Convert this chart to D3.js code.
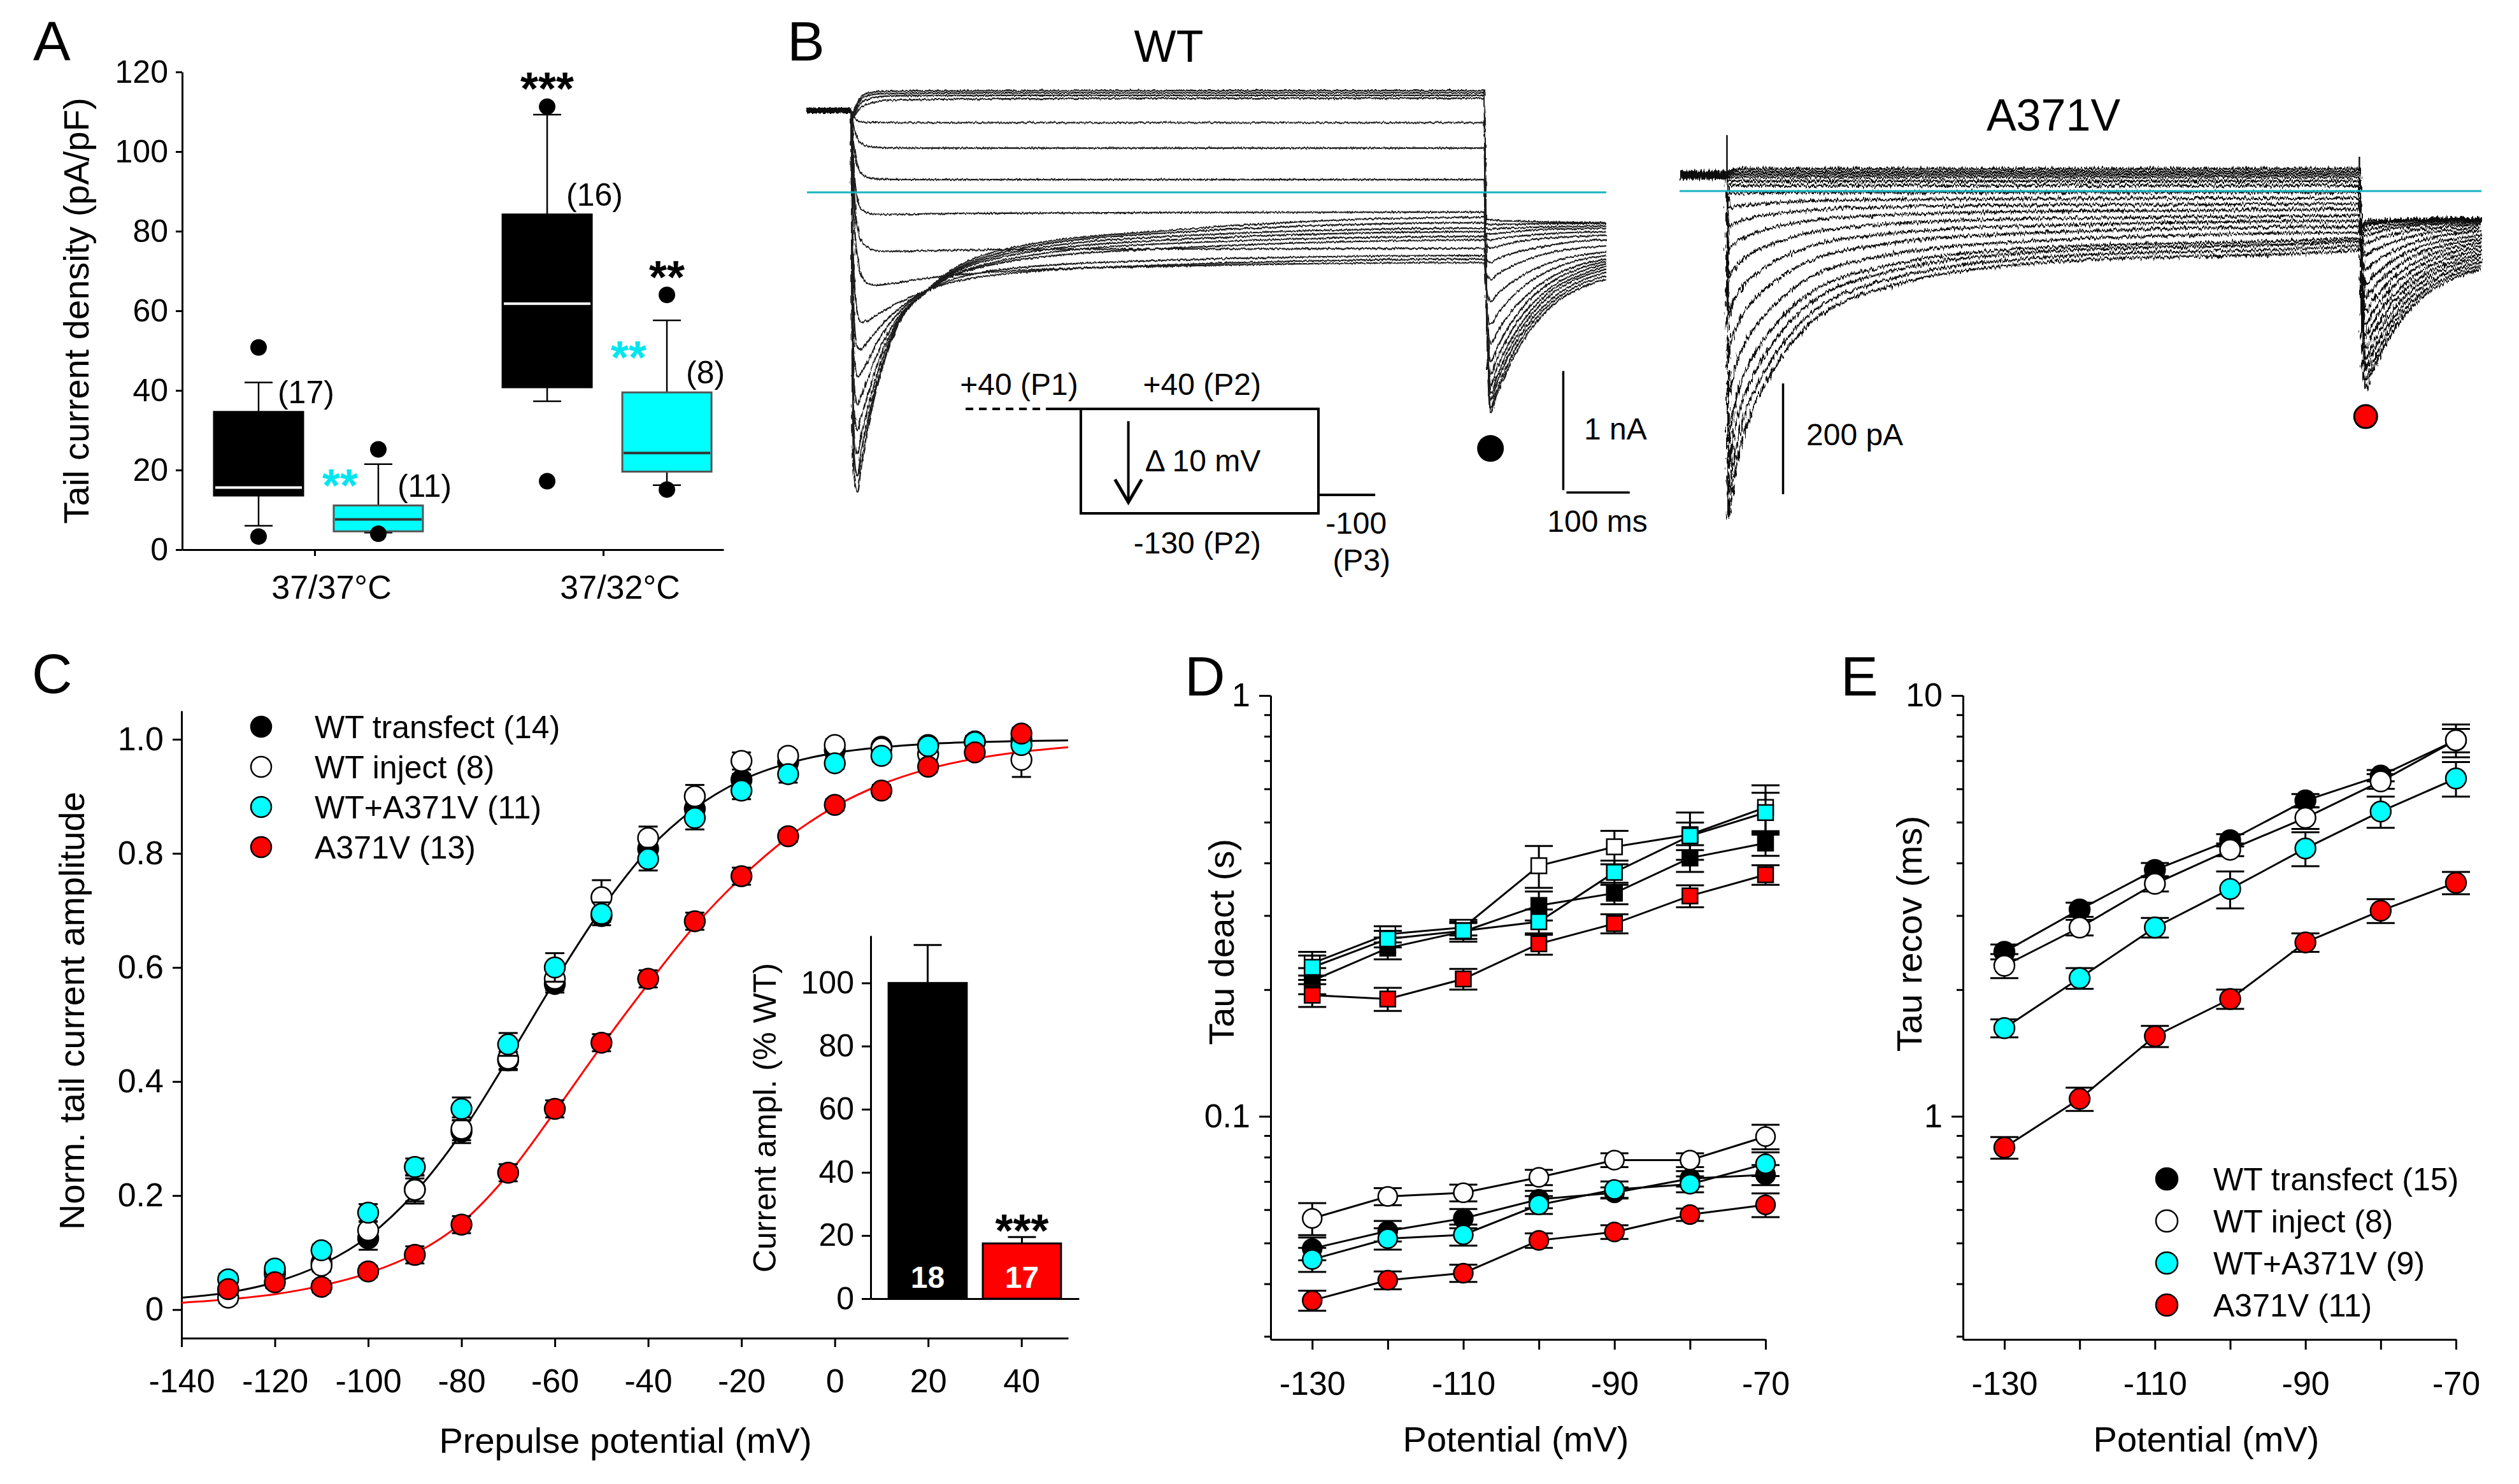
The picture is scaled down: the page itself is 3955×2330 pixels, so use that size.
<!DOCTYPE html>
<html>
<head>
<meta charset="utf-8">
<title>hERG A371V figure</title>
<script src="https://cdn.jsdelivr.net/npm/d3@7"></script>
<style>
  body { margin: 0; background: #fff; }
  text { font-family: "Liberation Sans", Arial, sans-serif; }
</style>
</head>
<body>
<svg id="fig" width="3955" height="2330"></svg>
<script>
// ---------------- data ----------------
// A: tail current density box plots  [whisker low, q1, median, q3, whisker high]
var boxGroups = ["37/37°C", "37/32°C"];
var aTicks = [0, 20, 40, 60, 80, 100, 120];
var boxWT  = [[6.0, 13.6, 15.6, 34.6, 42.0], [37.3, 40.8, 61.8, 84.2, 109.3]];
var boxMut = [[4.3, 4.6, 7.6, 11.1, 21.5], [16.2, 19.6, 24.3, 39.5, 57.6]];
var outWT  = [[50.8, 3.3], [111.3, 17.2]];
var outMut = [[25.2, 4.0], [64.0, 15.1]];
var nWT  = ["(17)", "(16)"];
var nMut = ["(11)", "(8)"];
var starsWT = ["", "***"];
var starsMutTop = ["", "**"];
var starsMutSide = ["**", "**"];

// B: WT current traces (nA), P2 step then P3 tail
var wtHold = [[-70, 0.687], [0, 0.687]];
var wtTimes = [0, 2, 6, 10, 15, 25, 40, 70, 120, 250, 500, 1000];
var wtSteps = [
  [0.687, 0.66, 0.71, 0.76, 0.80, 0.83, 0.845, 0.85, 0.852, 0.853, 0.854, 0.854],
  [0.687, 0.65, 0.69, 0.74, 0.78, 0.81, 0.825, 0.83, 0.833, 0.835, 0.835, 0.835],
  [0.687, 0.64, 0.67, 0.71, 0.75, 0.78, 0.80, 0.81, 0.812, 0.814, 0.814, 0.814],
  [0.687, 0.63, 0.65, 0.68, 0.71, 0.74, 0.76, 0.775, 0.78, 0.785, 0.79, 0.79],
  [0.687, 0.65, 0.62, 0.60, 0.59, 0.588, 0.587, 0.586, 0.585, 0.585, 0.585, 0.585],
  [0.687, 0.60, 0.50, 0.45, 0.415, 0.39, 0.378, 0.373, 0.372, 0.372, 0.372, 0.372],
  [0.687, 0.50, 0.32, 0.22, 0.16, 0.125, 0.112, 0.108, 0.107, 0.107, 0.107, 0.107],
  [0.687, 0.40, 0.08, -0.06, -0.13, -0.17, -0.185, -0.185, -0.18, -0.175, -0.17, -0.165],
  [0.687, 0.35, -0.12, -0.30, -0.40, -0.46, -0.49, -0.495, -0.49, -0.48, -0.475, -0.47],
  [0.687, 0.2, -0.35, -0.55, -0.68, -0.76, -0.78, -0.76, -0.72, -0.66, -0.62, -0.59],
  [0.687, -0.3, -0.85, -1.02, -1.09, -1.08, -1.03, -0.94, -0.82, -0.68, -0.61, -0.56],
  [0.687, -0.6, -1.18, -1.30, -1.32, -1.26, -1.16, -1.0, -0.82, -0.64, -0.57, -0.53],
  [0.687, -0.9, -1.45, -1.55, -1.52, -1.43, -1.27, -1.04, -0.82, -0.58, -0.47, -0.40],
  [0.687, -1.2, -1.70, -1.78, -1.72, -1.58, -1.37, -1.08, -0.83, -0.56, -0.43, -0.37],
  [0.687, -1.45, -1.92, -2.0, -1.9, -1.72, -1.46, -1.11, -0.83, -0.53, -0.40, -0.33],
  [0.687, -1.7, -2.12, -2.2, -2.06, -1.84, -1.54, -1.13, -0.83, -0.51, -0.37, -0.30],
  [0.687, -1.9, -2.3, -2.38, -2.2, -1.94, -1.61, -1.15, -0.83, -0.49, -0.34, -0.255],
  [0.687, -2.1, -2.45, -2.52, -2.33, -2.01, -1.65, -1.16, -0.82, -0.47, -0.32, -0.21]
];
var tailTimes = [1000, 1004, 1010, 1020, 1040, 1070, 1110, 1150, 1193];
var wtTails = [
  [0.854, -1.04, -1.85, -1.70, -1.45, -1.18, -0.94, -0.81, -0.73],
  [0.835, -1.02, -1.81, -1.66, -1.41, -1.14, -0.91, -0.78, -0.70],
  [0.814, -0.98, -1.75, -1.60, -1.36, -1.10, -0.88, -0.75, -0.67],
  [0.79, -0.95, -1.69, -1.55, -1.31, -1.06, -0.84, -0.72, -0.645],
  [0.585, -0.96, -1.62, -1.48, -1.26, -1.02, -0.81, -0.70, -0.62],
  [0.372, -0.96, -1.53, -1.40, -1.19, -0.97, -0.78, -0.67, -0.60],
  [0.107, -0.96, -1.42, -1.31, -1.12, -0.91, -0.74, -0.64, -0.58],
  [-0.165, -0.95, -1.28, -1.18, -1.02, -0.85, -0.70, -0.61, -0.56],
  [-0.47, -0.92, -1.11, -1.03, -0.90, -0.76, -0.64, -0.57, -0.53],
  [-0.59, -0.82, -0.92, -0.86, -0.77, -0.67, -0.58, -0.53, -0.50],
  [-0.56, -0.68, -0.73, -0.69, -0.63, -0.56, -0.50, -0.47, -0.45],
  [-0.53, -0.57, -0.59, -0.56, -0.52, -0.48, -0.44, -0.41, -0.40],
  [-0.40, -0.45, -0.47, -0.455, -0.43, -0.40, -0.38, -0.37, -0.36],
  [-0.37, -0.39, -0.40, -0.39, -0.375, -0.36, -0.345, -0.335, -0.33],
  [-0.33, -0.345, -0.35, -0.345, -0.335, -0.32, -0.31, -0.305, -0.30],
  [-0.30, -0.305, -0.31, -0.305, -0.30, -0.295, -0.29, -0.285, -0.28],
  [-0.255, -0.265, -0.27, -0.27, -0.268, -0.265, -0.263, -0.261, -0.26],
  [-0.21, -0.225, -0.23, -0.235, -0.24, -0.245, -0.25, -0.253, -0.255]
];
var wtDot = [1010, -2.15];

// B: A371V current traces (pA)
var mutHold = [[-75, 29], [0, 29]];
var mutSpikes = [[0, 101, 29], [1000, 62, 40]];
var mutTimes = [0, 1, 2, 10, 15, 25, 40, 70, 120, 250, 500, 1000];
var mutSteps = [
  [29, 32, 36, 38, 39, 40, 40, 40, 40, 40, 40, 40],
  [29, 31, 33, 34, 35, 35, 35, 35, 35, 35, 35, 35],
  [29, 29, 30, 30, 30, 30, 30, 30, 30, 30, 30, 30],
  [29, 27, 26, 25, 25, 25, 25, 25, 25, 25, 25, 25],
  [29, 24, 20, 18, 18, 18, 18, 18, 18, 18, 18, 18],
  [29, 20, 12, 10, 10, 10, 10, 10, 10, 10, 10, 10],
  [29, 12, -4, -3.7, -3.6, -3.4, -3.2, -2.9, -2.6, -2.3, -2.1, -2],
  [29, -1, -31, -28.7, -27.4, -25.6, -23.8, -21.3, -18.4, -15.5, -13.9, -13],
  [29, -18, -65, -59.5, -56.6, -52.4, -48.2, -42.3, -35.6, -28.9, -25, -23],
  [29, -39, -107, -97.4, -92.2, -84.8, -77.4, -67, -55.2, -43.4, -36.6, -33],
  [29, -64, -157, -142.3, -134.4, -123.1, -111.8, -96, -77.9, -59.8, -49.4, -44],
  [29, -97, -222, -200.2, -188.4, -171.6, -154.8, -131.3, -104.4, -77.5, -62.1, -54],
  [29, -131, -290, -260.6, -244.8, -222.2, -199.6, -168, -131.8, -95.6, -74.8, -64],
  [29, -171, -370, -331.7, -311, -281.5, -252, -210.7, -163.5, -116.3, -89.2, -75],
  [29, -208, -445, -398.2, -373, -337, -301, -250.6, -193, -135.4, -102.3, -85],
  [29, -236, -500, -446.7, -418, -377, -336, -278.6, -213, -147.4, -109.7, -90],
  [29, -261, -550, -491.2, -459.6, -414.4, -369.2, -305.9, -233.6, -161.3, -119.7, -98],
  [29, -281, -590, -527, -493, -445, -396, -329, -251, -174, -129, -106]
];
var mutTails = [
  [40, -238, -357, -327, -279, -227, -182, -157, -141],
  [35, -227, -340, -312, -266, -216, -174, -150, -135],
  [30, -216, -322, -295, -252, -205, -165, -142, -128],
  [25, -205, -303, -278, -237, -193, -155, -134, -121],
  [18, -193, -283, -260, -222, -181, -146, -127, -114],
  [10, -180, -262, -241, -206, -169, -136, -118, -107],
  [-2, -169, -240, -221, -189, -156, -126, -110, -100],
  [-13, -156, -217, -200, -172, -142, -116, -102, -93],
  [-23, -142, -193, -178, -154, -128, -106, -94, -86],
  [-33, -127, -168, -156, -136, -114, -96, -86, -79],
  [-44, -113, -142, -132, -117, -100, -85, -77, -72],
  [-54, -97, -116, -109, -98, -86, -75, -70, -66],
  [-64, -86, -95, -90, -82, -74, -67, -63, -60],
  [-75, -78, -80, -77, -71, -65, -60, -58, -56],
  [-85, -74, -70, -68, -64, -60, -56, -54, -53],
  [-90, -70, -62, -60, -58, -55, -53, -52, -51],
  [-98, -70, -58, -57, -55, -53, -52, -51, -50],
  [-106, -70, -54, -53, -52, -51, -50, -49, -49]
];
var mutDot = [1010, -407];

// C: normalized tail current vs prepulse potential
var cV = [-130, -120, -110, -100, -90, -80, -70, -60, -50, -40, -30, -20, -10, 0, 10, 20, 30, 40];
var cBlack = [0.034, 0.065, 0.082, 0.125, 0.211, 0.312, 0.437, 0.571, 0.69, 0.808, 0.878, 0.929, 0.96, 0.981, 0.987, 0.99, 0.996, 1.0];
var cWhite = [0.021, 0.062, 0.077, 0.139, 0.21, 0.317, 0.44, 0.58, 0.723, 0.827, 0.90, 0.962, 0.971, 0.99, 0.984, 0.974, 0.996, 0.964];
var cCyan  = [0.053, 0.072, 0.104, 0.17, 0.25, 0.352, 0.465, 0.60, 0.694, 0.79, 0.862, 0.91, 0.939, 0.958, 0.971, 0.988, 0.995, 0.99];
var cRed   = [0.036, 0.048, 0.04, 0.067, 0.096, 0.149, 0.24, 0.352, 0.468, 0.58, 0.681, 0.76, 0.83, 0.885, 0.91, 0.952, 0.977, 1.01];
var cBlackErr = [0.01, 0.01, 0.015, 0.02, 0.025, 0.02, 0.015, 0.015, 0.01, 0.01, 0.01, 0.01, 0.01, 0.01, 0.005, 0.005, 0.005, 0.005];
var cWhiteErr = [0.01, 0.01, 0.01, 0.015, 0.02, 0.02, 0.02, 0.02, 0.03, 0.02, 0.02, 0.015, 0.01, 0.01, 0.01, 0.01, 0.01, 0.03];
var cCyanErr  = [0.01, 0.01, 0.01, 0.015, 0.015, 0.02, 0.02, 0.025, 0.02, 0.02, 0.02, 0.015, 0.015, 0.01, 0.01, 0.01, 0.01, 0.01];
var cRedErr   = [0.01, 0.01, 0.01, 0.01, 0.015, 0.015, 0.015, 0.015, 0.015, 0.015, 0.015, 0.015, 0.01, 0.01, 0.01, 0.01, 0.01, 0.01];
var cFitV = [-140, -130, -120, -110, -100, -90, -80, -70, -60, -50, -40, -30, -20, -10, 0, 10, 20, 30, 40, 50];
var cFitBlack = [0.021, 0.030, 0.048, 0.079, 0.128, 0.205, 0.310, 0.440, 0.576, 0.702, 0.806, 0.879, 0.928, 0.958, 0.976, 0.986, 0.992, 0.995, 0.997, 0.998];
var cFitRed   = [0.012, 0.018, 0.027, 0.042, 0.064, 0.098, 0.152, 0.237, 0.347, 0.462, 0.571, 0.673, 0.758, 0.828, 0.882, 0.921, 0.948, 0.966, 0.978, 0.986];
var cXTicks = [-140, -120, -100, -80, -60, -40, -20, 0, 20, 40];
var cYTicks = [0, 0.2, 0.4, 0.6, 0.8, 1.0];
var cLegend = ["WT transfect (14)", "WT inject (8)", "WT+A371V (11)", "A371V (13)"];

// C inset: current amplitude (% WT)
var insCats = ["WT", "A371V"];
var insVals = [100, 17.5];
var insErr  = [12, 2];
var insN    = ["18", "17"];
var insTicks = [0, 20, 40, 60, 80, 100];

// D: deactivation time constants (s)
var dV = [-130, -120, -110, -100, -90, -80, -70];
var dSlowBlack = [0.210, 0.251, 0.275, 0.317, 0.339, 0.411, 0.446];
var dSlowWhite = [0.231, 0.271, 0.281, 0.394, 0.437, 0.467, 0.542];
var dSlowCyan  = [0.226, 0.264, 0.276, 0.290, 0.380, 0.464, 0.527];
var dSlowRed   = [0.194, 0.190, 0.212, 0.257, 0.287, 0.334, 0.375];
var dSlowBlackErr = [0.015, 0.015, 0.015, 0.025, 0.02, 0.03, 0.03];
var dSlowWhiteErr = [0.015, 0.012, 0.012, 0.045, 0.04, 0.06, 0.07];
var dSlowCyanErr  = [0.015, 0.012, 0.012, 0.02, 0.025, 0.035, 0.06];
var dSlowRedErr   = [0.012, 0.012, 0.012, 0.015, 0.015, 0.02, 0.02];
var dFastBlack = [0.0485, 0.0534, 0.0572, 0.0635, 0.0658, 0.0711, 0.0726];
var dFastWhite = [0.0572, 0.0645, 0.0658, 0.0716, 0.0787, 0.0787, 0.0895];
var dFastCyan  = [0.0457, 0.0512, 0.0523, 0.0616, 0.0670, 0.0690, 0.0771];
var dFastRed   = [0.0365, 0.0408, 0.0424, 0.0507, 0.0531, 0.0584, 0.0616];
var dFastBlackErr = [0.003, 0.003, 0.003, 0.003, 0.002, 0.003, 0.004];
var dFastWhiteErr = [0.005, 0.003, 0.003, 0.003, 0.003, 0.003, 0.006];
var dFastCyanErr  = [0.003, 0.003, 0.003, 0.003, 0.003, 0.003, 0.005];
var dFastRedErr   = [0.002, 0.002, 0.002, 0.002, 0.002, 0.002, 0.004];
var xLabelled = [-130, -110, -90, -70];

// E: recovery time constants (ms)
var eBlack = [2.46, 3.10, 3.85, 4.53, 5.63, 6.45, 7.83];
var eWhite = [2.28, 2.81, 3.57, 4.30, 5.12, 6.25, 7.83];
var eCyan  = [1.62, 2.13, 2.81, 3.47, 4.33, 5.30, 6.35];
var eRed   = [0.843, 1.10, 1.55, 1.90, 2.59, 3.08, 3.59];
var eBlackErr = [0.1, 0.12, 0.15, 0.15, 0.2, 0.2, 0.5];
var eWhiteErr = [0.15, 0.12, 0.15, 0.15, 0.3, 0.25, 0.7];
var eCyanErr  = [0.08, 0.12, 0.15, 0.35, 0.4, 0.45, 0.6];
var eRedErr   = [0.05, 0.07, 0.09, 0.1, 0.13, 0.2, 0.22];
var eLegend = ["WT transfect (15)", "WT inject (8)", "WT+A371V (9)", "A371V (11)"];

var fills = ["#000000", "#ffffff", "#00ffff", "#ff0000"];

// ---------------- helpers ----------------
var FONT = '"Liberation Sans", Arial, sans-serif';
var svg = d3.select("#fig");
svg.append("rect").attr("width", 3955).attr("height", 2330).attr("fill", "#fff");

var defs = svg.append("defs");
function noiseFilter(id, freq, scale, seed) {
  var f = defs.append("filter").attr("id", id)
    .attr("x", "-2%").attr("y", "-10%").attr("width", "104%").attr("height", "120%");
  f.append("feTurbulence").attr("type", "fractalNoise").attr("baseFrequency", freq)
    .attr("numOctaves", 2).attr("seed", seed).attr("result", "n");
  f.append("feDisplacementMap").attr("in", "SourceGraphic").attr("in2", "n")
    .attr("scale", scale).attr("xChannelSelector", "R").attr("yChannelSelector", "G");
}
noiseFilter("noiseWT", "0.4 0.06", 5, 3);
noiseFilter("noiseMut", "0.4 0.06", 12, 7);

function addText(x, y, s, fs, anchor) {
  return svg.append("text").attr("x", x).attr("y", y).attr("font-size", fs)
    .attr("text-anchor", anchor || "start").attr("fill", "#000").text(s);
}
function addVText(x, y, s, fs) {
  return svg.append("text").attr("transform", "translate(" + x + "," + y + ") rotate(-90)")
    .attr("font-size", fs).attr("text-anchor", "middle").attr("fill", "#000").text(s);
}
function styleAxis(g, fs) {
  g.attr("font-family", FONT).attr("font-size", fs);
  g.selectAll(".domain, .tick line").attr("stroke", "#000").attr("stroke-width", 3);
  g.selectAll(".tick text").attr("fill", "#000");
  return g;
}
function zip(xs, ys) { return xs.map(function(x, i) { return [x, ys[i]]; }); }

// panel letters
addText(52, 95, "A", 88);
addText(1236, 95, "B", 88);
addText(50, 1088, "C", 88);
addText(1860, 1092, "D", 88);
addText(2890, 1092, "E", 88);

// ---------------- panel A ----------------
var aY = d3.scaleLinear().domain([0, 120]).range([863, 113]);
var aX = d3.scalePoint().domain(boxGroups).range([286, 1136]).padding(0.438).align(0.524);
styleAxis(svg.append("g").attr("transform", "translate(286,0)")
  .call(d3.axisLeft(aY).tickValues(aTicks).tickSize(10).tickPadding(12).tickSizeOuter(0)), 50);
var axA = styleAxis(svg.append("g").attr("transform", "translate(0,863)")
  .call(d3.axisBottom(aX).tickSize(10).tickPadding(30).tickSizeOuter(0)), 52);
axA.selectAll(".tick text").attr("dx", 26);
addVText(139, 488, "Tail current density (pA/pF)", 56);

var boxSets = [
  {stats: boxWT, outl: outWT, n: nWT, off: -88, fill: "#000", stroke: "#000", med: "#fff"},
  {stats: boxMut, outl: outMut, n: nMut, off: 100, fill: "#00ffff", stroke: "#555", med: "#333"}
];
boxSets.forEach(function(set) {
  boxGroups.forEach(function(grp, i) {
    var s = set.stats[i], lo = s[0], q1 = s[1], md = s[2], q3 = s[3], hi = s[4];
    var cx = aX(grp) + set.off, hw = 70, cap = 22;
    var g = svg.append("g").attr("stroke", "#000").attr("stroke-width", 2.5);
    g.append("line").attr("x1", cx).attr("x2", cx).attr("y1", aY(hi)).attr("y2", aY(q3));
    g.append("line").attr("x1", cx).attr("x2", cx).attr("y1", aY(q1)).attr("y2", aY(lo));
    g.append("line").attr("x1", cx - cap).attr("x2", cx + cap).attr("y1", aY(hi)).attr("y2", aY(hi));
    g.append("line").attr("x1", cx - cap).attr("x2", cx + cap).attr("y1", aY(lo)).attr("y2", aY(lo));
    g.append("rect").attr("x", cx - hw).attr("width", 2 * hw)
      .attr("y", aY(q3)).attr("height", aY(q1) - aY(q3))
      .attr("fill", set.fill).attr("stroke", set.stroke).attr("stroke-width", 3);
    g.append("line").attr("x1", cx - hw + 2).attr("x2", cx + hw - 2).attr("y1", aY(md)).attr("y2", aY(md))
      .attr("stroke", set.med).attr("stroke-width", 4);
    set.outl[i].forEach(function(v) {
      svg.append("circle").attr("cx", cx).attr("cy", aY(v)).attr("r", 13).attr("fill", "#000");
    });
    addText(cx + 30, aY(q3) - 14, set.n[i], 50);
  });
});
boxGroups.forEach(function(grp, i) {
  var cxW = aX(grp) - 88, cxM = aX(grp) + 100;
  var topW = d3.max(outWT[i].concat([boxWT[i][4]]));
  var topM = d3.max(outMut[i].concat([boxMut[i][4]]));
  addText(cxW, aY(topW) - 44 + 41, starsWT[i], 72, "middle").attr("font-weight", "bold");
  addText(cxM, aY(topM) - 44 + 41, starsMutTop[i], 72, "middle").attr("font-weight", "bold");
  addText(cxM - 60, aY((boxMut[i][3] + boxMut[i][4]) / 2) - 15 + 41, starsMutSide[i], 72, "middle")
    .attr("font-weight", "bold").attr("fill", "#00e5ee");
});

// ---------------- panel B : WT ----------------
var wtX = d3.scaleLinear().domain([-70, 1193]).range([1267, 2522]);
var wtY = d3.scaleLinear().domain([0, 1]).range([302, 115]);
var wtLine = d3.line().x(function(d) { return wtX(d[0]); }).y(function(d) { return wtY(d[1]); })
  .curve(d3.curveMonotoneX);
addText(1835, 97, "WT", 70, "middle");
var gWT = svg.append("g").attr("fill", "none").attr("filter", "url(#noiseWT)");
gWT.append("path").attr("d", wtLine(wtHold)).attr("stroke", "#111").attr("stroke-width", 9);
wtSteps.forEach(function(row, i) {
  var pts = zip(wtTimes, row).concat(zip(tailTimes, wtTails[i]).slice(1));
  gWT.append("path").attr("d", wtLine(pts)).attr("stroke", "#1c1c1c").attr("stroke-width", 2.4);
});
svg.append("path").attr("d", wtLine([[-70, 0], [1193, 0]]))
  .attr("stroke", "#17b3c0").attr("stroke-width", 3).attr("fill", "none");
svg.append("circle").attr("cx", wtX(wtDot[0])).attr("cy", wtY(wtDot[1])).attr("r", 21).attr("fill", "#000");
// scale bars 1 nA / 100 ms
svg.append("line").attr("x1", wtX(1125)).attr("x2", wtX(1125)).attr("y1", wtY(-1.5)).attr("y2", wtY(-2.5))
  .attr("stroke", "#000").attr("stroke-width", 3.5);
svg.append("line").attr("x1", wtX(1130)).attr("x2", wtX(1230)).attr("y1", wtY(-2.52)).attr("y2", wtY(-2.52))
  .attr("stroke", "#000").attr("stroke-width", 3.5);
addText(2487, 690, "1 nA", 48);
addText(2508, 835, "100 ms", 48, "middle");

// voltage protocol
var pX = d3.scaleLinear().domain([0, 1]).range([1697, 2070]);
var pY = d3.scaleLinear().domain([-130, 40]).range([806, 642]);
var gP = svg.append("g").attr("stroke", "#000").attr("stroke-width", 4).attr("fill", "none");
gP.append("line").attr("x1", pX(-0.485)).attr("x2", pX(-0.145)).attr("y1", pY(40)).attr("y2", pY(40))
  .attr("stroke-dasharray", "12,9");
gP.append("path").attr("d", "M" + pX(-0.145) + "," + pY(40) + "H" + pX(1) + "V" + pY(-130) + "H" + pX(0) + "V" + pY(40));
gP.append("line").attr("x1", pX(1)).attr("x2", pX(1.239)).attr("y1", pY(-100)).attr("y2", pY(-100));
gP.append("line").attr("x1", pX(0.2)).attr("x2", pX(0.2)).attr("y1", pY(20)).attr("y2", pY(-112));
gP.append("path").attr("d", "M" + (pX(0.2) - 21) + "," + (pY(-112) - 36) + "L" + pX(0.2) + "," + pY(-112) +
  "L" + (pX(0.2) + 21) + "," + (pY(-112) - 36)).attr("stroke-width", 5);
addText(pX(-0.26), 620, "+40 (P1)", 48, "middle");
addText(pX(0.51), 620, "+40 (P2)", 48, "middle");
addText(pX(0.27), 740, "\u0394 10 mV", 48);
addText(pX(0.49), 869, "-130 (P2)", 48, "middle");
addText(pX(1.03), 838, "-100", 48);
addText(pX(1.06), 896, "(P3)", 48);

// ---------------- panel B : A371V ----------------
var mutX = d3.scaleLinear().domain([-75, 1193]).range([2637, 3896]);
var mutY = d3.scaleLinear().domain([0, 200]).range([300, 126]);
var mutLine = d3.line().x(function(d) { return mutX(d[0]); }).y(function(d) { return mutY(d[1]); })
  .curve(d3.curveMonotoneX);
addText(3224, 205, "A371V", 70, "middle");
var gM = svg.append("g").attr("fill", "none").attr("filter", "url(#noiseMut)");
gM.append("path").attr("d", mutLine(mutHold)).attr("stroke", "#111").attr("stroke-width", 14);
mutSteps.forEach(function(row, i) {
  var pts = zip(mutTimes, row).concat(zip(tailTimes, mutTails[i]).slice(1));
  gM.append("path").attr("d", mutLine(pts)).attr("stroke", "#111").attr("stroke-width", 3.2);
});
mutSpikes.forEach(function(s) {
  svg.append("line").attr("x1", mutX(s[0])).attr("x2", mutX(s[0])).attr("y1", mutY(s[1])).attr("y2", mutY(s[2]))
    .attr("stroke", "#111").attr("stroke-width", 2.5);
});
svg.append("path").attr("d", mutLine([[-75, 0], [1193, 0]]))
  .attr("stroke", "#17b3c0").attr("stroke-width", 3).attr("fill", "none");
svg.append("circle").attr("cx", mutX(mutDot[0])).attr("cy", mutY(mutDot[1])).attr("r", 18)
  .attr("fill", "#ff0000").attr("stroke", "#000").attr("stroke-width", 3);
svg.append("line").attr("x1", mutX(88.7)).attr("x2", mutX(88.7)).attr("y1", mutY(-347)).attr("y2", mutY(-547))
  .attr("stroke", "#000").attr("stroke-width", 3.5);
addText(2836, 699, "200 pA", 48);

// ---------------- panel C ----------------
var cX = d3.scaleLinear().domain([-140, 50]).range([285, 1677]);
var cY = d3.scaleLinear().domain([-0.05, 1.05]).range([2101, 1116]);
styleAxis(svg.append("g").attr("transform", "translate(285,0)")
  .call(d3.axisLeft(cY).tickValues(cYTicks).tickSize(14).tickPadding(14).tickSizeOuter(0)
    .tickFormat(function(d) { return d === 0 ? "0" : d3.format(".1f")(d); })), 52);
styleAxis(svg.append("g").attr("transform", "translate(0,2101)")
  .call(d3.axisBottom(cX).tickValues(cXTicks).tickSize(14).tickPadding(34).tickSizeOuter(0)
    .tickFormat(function(d) { return String(d); })), 52);
addVText(132, 1587, "Norm. tail current amplitude", 56);
addText(982, 2281, "Prepulse potential (mV)", 56, "middle");

var cLine = d3.line().x(function(d) { return cX(d[0]); }).y(function(d) { return cY(d[1]); }).curve(d3.curveMonotoneX);
svg.append("path").attr("d", cLine(zip(cFitV, cFitBlack))).attr("stroke", "#000").attr("stroke-width", 3).attr("fill", "none");
svg.append("path").attr("d", cLine(zip(cFitV, cFitRed))).attr("stroke", "#ff0000").attr("stroke-width", 3).attr("fill", "none");

var cSeries = [
  {v: cBlack, e: cBlackErr, fill: fills[0]},
  {v: cWhite, e: cWhiteErr, fill: fills[1]},
  {v: cCyan, e: cCyanErr, fill: fills[2]},
  {v: cRed, e: cRedErr, fill: fills[3]}
];
function errBars(g, xs, ys, es, xS, yS, capHw) {
  xs.forEach(function(x, i) {
    var px = xS(x), top = yS(ys[i] + es[i]), bot = yS(ys[i] - es[i]);
    g.append("line").attr("x1", px).attr("x2", px).attr("y1", top).attr("y2", bot);
    g.append("line").attr("x1", px - capHw).attr("x2", px + capHw).attr("y1", top).attr("y2", top);
    g.append("line").attr("x1", px - capHw).attr("x2", px + capHw).attr("y1", bot).attr("y2", bot);
  });
}
cSeries.forEach(function(s) {
  var g = svg.append("g").attr("stroke", "#000").attr("stroke-width", 3);
  errBars(g, cV, s.v, s.e, cX, cY, 15);
  g.selectAll("circle").data(zip(cV, s.v)).enter().append("circle")
    .attr("cx", function(d) { return cX(d[0]); }).attr("cy", function(d) { return cY(d[1]); })
    .attr("r", 16).attr("fill", s.fill).attr("stroke-width", 2.5);
});
cLegend.forEach(function(t, i) {
  var y = 1141 + i * 63;
  svg.append("circle").attr("cx", 410).attr("cy", y).attr("r", 16).attr("fill", fills[i])
    .attr("stroke", "#000").attr("stroke-width", 2.5);
  addText(494, y + 18, t, 50);
});

// inset
var insX = d3.scaleBand().domain(insCats).range([1367, 1694]).paddingInner(0.17).paddingOuter(0.19);
var insY = d3.scaleLinear().domain([0, 115]).range([2039, 1469]);
styleAxis(svg.append("g").attr("transform", "translate(1367,0)")
  .call(d3.axisLeft(insY).tickValues(insTicks).tickSize(14).tickPadding(12).tickSizeOuter(0)), 50);
styleAxis(svg.append("g").attr("transform", "translate(0,2039)")
  .call(d3.axisBottom(insX).tickSize(0).tickFormat("")), 50);
addVText(1218, 1755, "Current ampl. (% WT)", 50);
insCats.forEach(function(c, i) {
  var x0 = insX(c), bw = insX.bandwidth(), cx = x0 + bw / 2;
  svg.append("line").attr("x1", cx).attr("x2", cx).attr("y1", insY(insVals[i])).attr("y2", insY(insVals[i] + insErr[i]))
    .attr("stroke", "#000").attr("stroke-width", 3);
  svg.append("line").attr("x1", cx - 22).attr("x2", cx + 22)
    .attr("y1", insY(insVals[i] + insErr[i])).attr("y2", insY(insVals[i] + insErr[i]))
    .attr("stroke", "#000").attr("stroke-width", 3);
  svg.append("rect").attr("x", x0).attr("width", bw).attr("y", insY(insVals[i]))
    .attr("height", insY(0) - insY(insVals[i])).attr("fill", i === 0 ? "#000" : "#ff0000")
    .attr("stroke", "#000").attr("stroke-width", 3);
  addText(cx, 2022, insN[i], 48, "middle").attr("fill", "#fff").attr("font-weight", "bold");
});
addText(insX("A371V") + insX.bandwidth() / 2, insY(insVals[1] + insErr[1]) - 26 + 41, "***", 72, "middle")
  .attr("font-weight", "bold");

// ---------------- panels D and E ----------------
function logAxes(x0, xS, yS, major, minor, fmt) {
  styleAxis(svg.append("g").attr("transform", "translate(" + x0 + ",0)")
    .call(d3.axisLeft(yS).tickValues(minor).tickSize(10).tickFormat("").tickSizeOuter(0)), 52);
  styleAxis(svg.append("g").attr("transform", "translate(" + x0 + ",0)")
    .call(d3.axisLeft(yS).tickValues(major).tickSize(18).tickPadding(14).tickFormat(fmt).tickSizeOuter(0)), 52);
  styleAxis(svg.append("g").attr("transform", "translate(0,2103)")
    .call(d3.axisBottom(xS).tickValues(dV).tickSize(16).tickPadding(34).tickSizeOuter(0)
      .tickFormat(function(d) { return xLabelled.indexOf(d) >= 0 ? String(d) : ""; })), 52);
}
function drawSeries(xS, yS, vals, errs, fill, shape, r) {
  var g = svg.append("g").attr("stroke", "#000").attr("stroke-width", 3).attr("fill", "none");
  errBars(g, dV, vals, errs, xS, yS, 22);
  g.append("path").attr("d", d3.line().x(function(d) { return xS(d[0]); }).y(function(d) { return yS(d[1]); })(zip(dV, vals)));
  var pts = zip(dV, vals);
  if (shape === "square") {
    g.selectAll("rect.m").data(pts).enter().append("rect").attr("class", "m")
      .attr("x", function(d) { return xS(d[0]) - r; }).attr("y", function(d) { return yS(d[1]) - r; })
      .attr("width", 2 * r).attr("height", 2 * r).attr("fill", fill).attr("stroke-width", 2.5);
  } else {
    g.selectAll("circle.m").data(pts).enter().append("circle").attr("class", "m")
      .attr("cx", function(d) { return xS(d[0]); }).attr("cy", function(d) { return yS(d[1]); })
      .attr("r", r).attr("fill", fill).attr("stroke-width", 2.5);
  }
}

// D
var dX = d3.scaleLinear().domain([-135.5, -70]).range([1995, 2772]);
var dY = d3.scaleLog().domain([0.0295, 1]).range([2103, 1092]);
logAxes(1995, dX, dY, [0.1, 1], [0.03, 0.04, 0.05, 0.06, 0.07, 0.08, 0.09, 0.2, 0.3, 0.4, 0.5, 0.6, 0.7, 0.8, 0.9],
  function(d) { return d === 1 ? "1" : "0.1"; });
addVText(1937, 1479, "Tau deact (s)", 56);
addText(2380, 2279, "Potential (mV)", 56, "middle");
var dSlow = [[dSlowBlack, dSlowBlackErr], [dSlowWhite, dSlowWhiteErr], [dSlowCyan, dSlowCyanErr], [dSlowRed, dSlowRedErr]];
var dFast = [[dFastBlack, dFastBlackErr], [dFastWhite, dFastWhiteErr], [dFastCyan, dFastCyanErr], [dFastRed, dFastRedErr]];
dSlow.forEach(function(s, i) { drawSeries(dX, dY, s[0], s[1], fills[i], "square", 12); });
dFast.forEach(function(s, i) { drawSeries(dX, dY, s[0], s[1], fills[i], "circle", 15); });

// E
var eX = d3.scaleLinear().domain([-135.5, -70]).range([3082, 3856]);
var eY = d3.scaleLog().domain([0.295, 10]).range([2103, 1092]);
logAxes(3082, eX, eY, [1, 10], [0.3, 0.4, 0.5, 0.6, 0.7, 0.8, 0.9, 2, 3, 4, 5, 6, 7, 8, 9],
  function(d) { return String(d); });
addVText(3017, 1466, "Tau recov (ms)", 56);
addText(3464, 2279, "Potential (mV)", 56, "middle");
var eSets = [[eBlack, eBlackErr], [eWhite, eWhiteErr], [eCyan, eCyanErr], [eRed, eRedErr]];
eSets.forEach(function(s, i) { drawSeries(eX, eY, s[0], s[1], fills[i], "circle", 16); });
eLegend.forEach(function(t, i) {
  var y = 1851 + i * 66;
  svg.append("circle").attr("cx", 3402).attr("cy", y).attr("r", 17).attr("fill", fills[i])
    .attr("stroke", "#000").attr("stroke-width", 2.5);
  addText(3475, y + 18, t, 50);
});
</script>
</body>
</html>
